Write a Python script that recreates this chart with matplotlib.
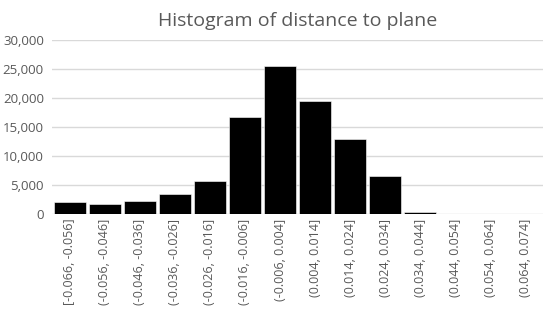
import matplotlib
matplotlib.use("Agg")
from matplotlib import pyplot as plt

bins = ['[-0.066, -0.056]', '(-0.056, -0.046]', '(-0.046, -0.036]', '(-0.036, -0.026]',
        '(-0.026, -0.016]', '(-0.016, -0.006]', '(-0.006, 0.004]', '(0.004, 0.014]',
        '(0.014, 0.024]', '(0.024, 0.034]', '(0.034, 0.044]', '(0.044, 0.054]',
        '(0.054, 0.064]', '(0.064, 0.074]']
counts = [2100, 1800, 2200, 3400, 5700, 16700, 25500, 19500, 13000, 6600, 350, 0, 0, 0]

plt.rcParams['font.family'] = ['Open Sans', 'DejaVu Sans']
fig = plt.figure(figsize=(5.5, 3.17), dpi=100)
ax = fig.add_axes([0.095, 0.325, 0.892, 0.549])

x = range(len(bins))
ax.bar(x, counts, width=0.9, color='black', edgecolor='white', linewidth=0.4, zorder=3)

ax.set_ylim(0, 30000)
ax.set_xlim(-0.5, len(bins) - 0.5)
ax.set_yticks(range(0, 30001, 5000))
ax.set_yticklabels(['{:,}'.format(v) for v in range(0, 30001, 5000)])
ax.set_xticks(list(x))
ax.set_xticklabels(bins, rotation=90)
ax.grid(axis='y', color='#d9d9d9', linewidth=1, zorder=0)
for s in ax.spines.values():
    s.set_visible(False)
ax.tick_params(length=0, colors='#595959', labelsize=9)
ax.tick_params(axis='y', pad=6, labelsize=9.5)

ax.set_title("Histogram of distance to plane", fontsize=14, color='#595959', pad=10)
fig.savefig("out.png", dpi=100)
